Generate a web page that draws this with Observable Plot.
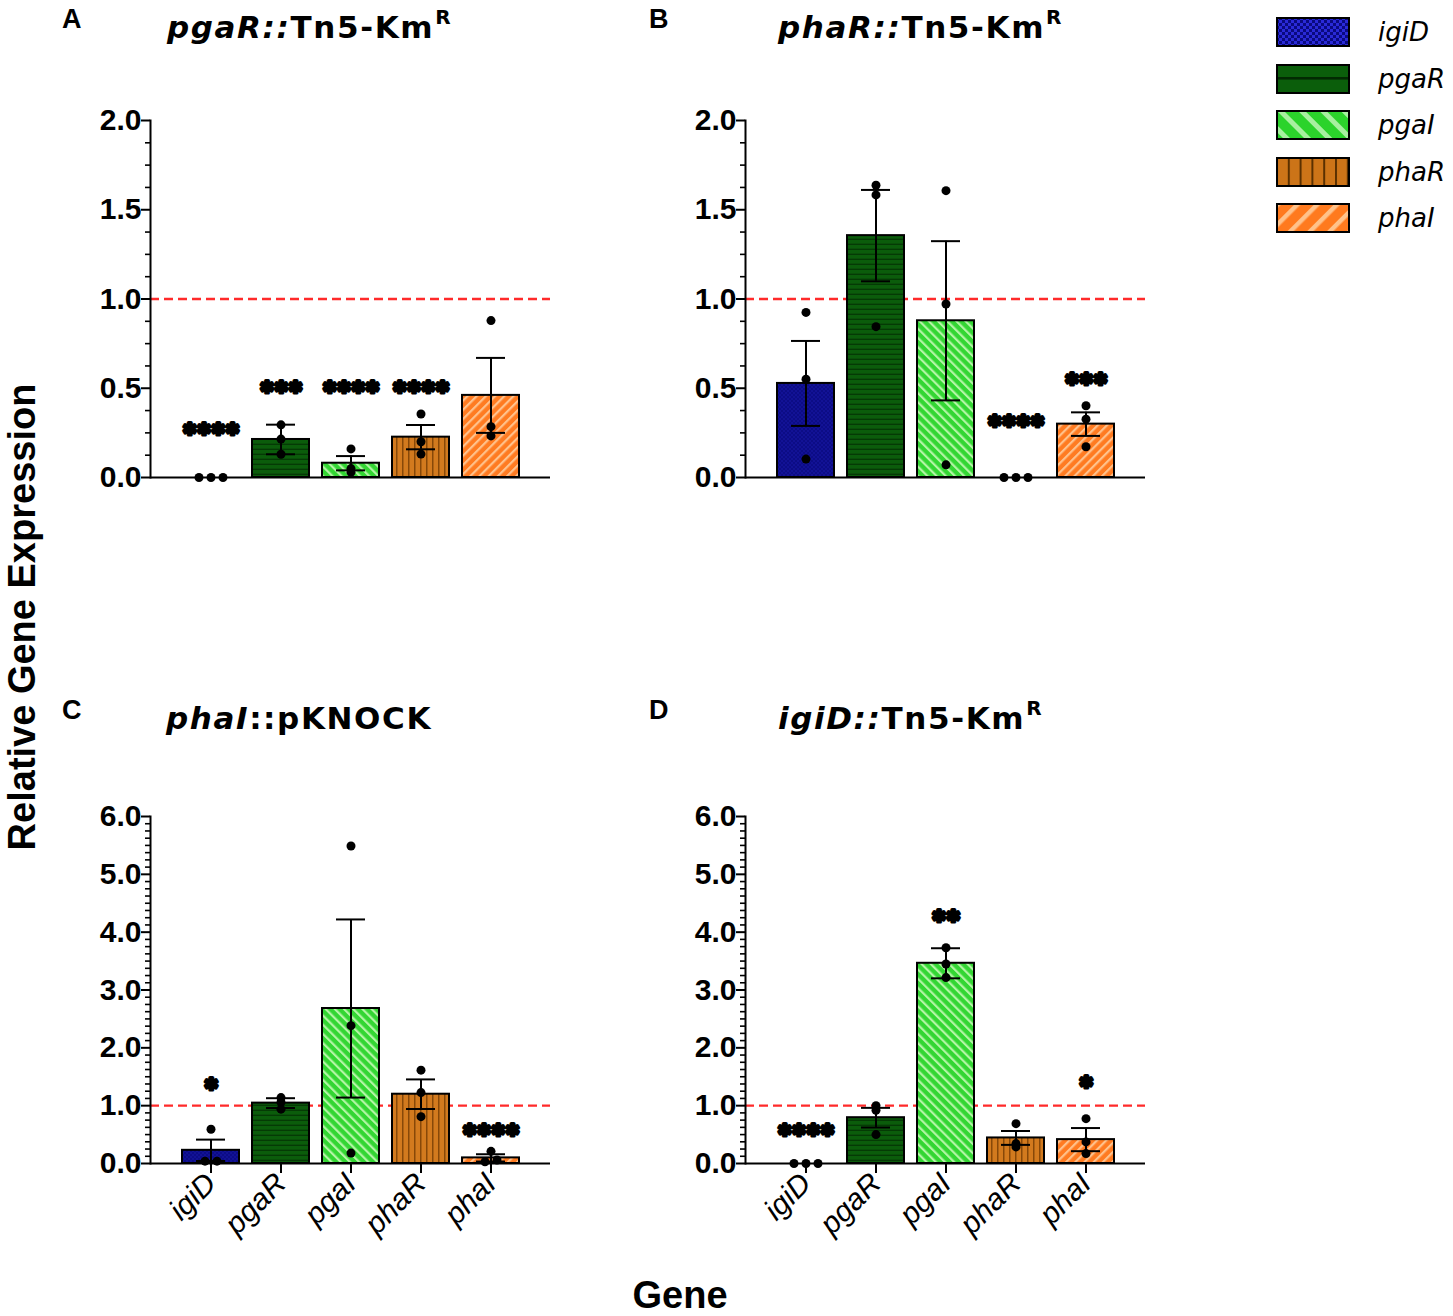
<!DOCTYPE html>
<html><head><meta charset="utf-8">
<script src="https://cdn.jsdelivr.net/npm/d3@7"></script>
<script src="https://cdn.jsdelivr.net/npm/@observablehq/plot@0.6"></script>
<style>
body{margin:0;background:#fff;}
#root{position:relative;width:1453px;height:1316px;overflow:hidden;background:#fff;font-family:"Liberation Sans",Arial,sans-serif;color:#000;}
.abs{position:absolute;white-space:nowrap;}
.title{font-family:"DejaVu Sans",Verdana,sans-serif;font-weight:bold;font-size:31px;line-height:31px;letter-spacing:1.6px;}
.title .sup{font-size:20px;position:relative;top:-14px;letter-spacing:0;margin-left:1px;}
.letter{font-family:"Liberation Sans",Arial,sans-serif;font-weight:bold;font-size:27px;line-height:27px;}
.axtitle{font-family:"Liberation Sans",Arial,sans-serif;font-weight:bold;font-size:38px;line-height:38px;}
.leglab{font-family:"DejaVu Sans",Verdana,sans-serif;font-style:italic;font-size:26px;line-height:29px;}
</style>
</head><body>
<div id="root"></div>
<script>
// ---------------- data ----------------
const genes = ["igiD", "pgaR", "pgaI", "phaR", "phaI"];
const panelLetters = ["A", "B", "C", "D"];
const titleItalic = ["pgaR::", "phaR::", "phaI", "igiD::"];
const titleRest = ["Tn5-Km", "Tn5-Km", "::pKNOCK", "Tn5-Km"];
const titleSup = ["R", "R", "", "R"];
const yMax = [2, 2, 6, 6];
const yMajorStep = [0.5, 0.5, 1, 1];
const yMinorStep = 0.125;
const refLevel = 1;

// mean relative expression per gene (order of genes)
const meanA = [0, 0.213, 0.08, 0.226, 0.46];
const meanB = [0.527, 1.355, 0.878, 0, 0.299];
const meanC = [0.228, 1.044, 2.68, 1.198, 0.097];
const meanD = [0, 0.792, 3.462, 0.442, 0.413];
// error (± bar half length)
const errA = [0, 0.083, 0.04, 0.068, 0.21];
const errB = [0.238, 0.256, 0.446, 0, 0.066];
const errC = [0.185, 0.085, 1.54, 0.256, 0.063];
const errD = [0, 0.17, 0.26, 0.12, 0.2];
// replicate points
const repsA = [[0, 0, 0], [0.295, 0.215, 0.13], [0.16, 0.05, 0.03], [0.356, 0.2, 0.131], [0.879, 0.285, 0.233]];
const repsB = [[0.925, 0.551, 0.103], [1.637, 1.583, 0.845], [1.607, 0.972, 0.071], [0, 0, 0], [0.402, 0.327, 0.172]];
const repsC = [[0.593, 0.04, 0.04], [1.14, 1.06, 0.94], [5.49, 2.384, 0.18], [1.614, 1.226, 0.81], [0.21, 0.06, 0.03]];
const repsD = [[0, 0, 0], [1.0, 0.92, 0.5], [3.73, 3.45, 3.215], [0.689, 0.344, 0.287], [0.775, 0.373, 0.172]];
// significance stars and the value at which they are printed
const starsA = ["****", "***", "****", "****", ""];
const starsB = ["", "", "", "****", "***"];
const starsC = ["*", "", "", "", "****"];
const starsD = ["****", "", "**", "", "*"];
const starYA = [0.27, 0.504, 0.504, 0.504, 0];
const starYB = [0, 0, 0, 0.312, 0.551];
const starYC = [1.37, 0, 0, 0, 0.57];
const starYD = [0.574, 0, 4.266, 0, 1.407];

const legendLabels = genes;
const xTitle = "Gene";
const yTitle = "Relative Gene Expression";

// ---------------- styles ----------------
const geneBg = ["#0c0c86", "#0b5c0b", "#33d633", "#d27a1e", "#ff7b21"];
const geneLine = ["#121296", "#053a05", "#b4f5a6", "#874808", "#ffc28c"];
const legendBg = ["#0a0a80", "#0b5e0b", "#2bd32b", "#cc7418", "#ff7a1e"];
const legendLine = ["#2a2ad8", "#022a02", "#a8f0a0", "#5a3000", "#ffc28a"];

const means = [meanA, meanB, meanC, meanD];
const errs = [errA, errB, errC, errD];
const reps = [repsA, repsB, repsC, repsD];
const stars = [starsA, starsB, starsC, starsD];
const starYs = [starYA, starYB, starYC, starYD];

const root = document.getElementById("root");

// ---------------- pattern defs ----------------
const defsSvg = d3.select(root).append("svg")
  .attr("width", 0).attr("height", 0)
  .style("position", "absolute").style("left", 0).style("top", 0);
const defs = defsSvg.append("defs");
function addPattern(id, w, h, bg, rot, draw) {
  const p = defs.append("pattern").attr("id", id)
    .attr("patternUnits", "userSpaceOnUse").attr("width", w).attr("height", h);
  if (rot) p.attr("patternTransform", `rotate(${rot})`);
  p.append("rect").attr("width", w).attr("height", h).attr("fill", bg);
  draw(p);
}
// bar patterns
addPattern("p-igiD", 4, 4, geneBg[0], 0, p => {
  p.append("rect").attr("x", 0).attr("y", 0).attr("width", 2).attr("height", 2).attr("fill", geneLine[0]);
  p.append("rect").attr("x", 2).attr("y", 2).attr("width", 2).attr("height", 2).attr("fill", geneLine[0]);
});
addPattern("p-pgaR", 10, 5, geneBg[1], 0, p => {
  p.append("rect").attr("x", 0).attr("y", 3.6).attr("width", 10).attr("height", 1.4).attr("fill", geneLine[1]);
});
addPattern("p-pgaI", 6.5, 10, geneBg[2], -45, p => {
  p.append("rect").attr("x", 0).attr("y", 0).attr("width", 2.2).attr("height", 10).attr("fill", geneLine[2]);
});
addPattern("p-phaR", 6, 10, geneBg[3], 0, p => {
  p.append("rect").attr("x", 0).attr("y", 0).attr("width", 1.5).attr("height", 10).attr("fill", geneLine[3]);
});
addPattern("p-phaI", 6.5, 10, geneBg[4], 45, p => {
  p.append("rect").attr("x", 0).attr("y", 0).attr("width", 2.2).attr("height", 10).attr("fill", geneLine[4]);
});
// legend patterns
addPattern("L-igiD", 6, 6, legendBg[0], 0, p => {
  p.append("rect").attr("x", 0).attr("y", 0).attr("width", 3).attr("height", 3).attr("fill", legendLine[0]);
  p.append("rect").attr("x", 3).attr("y", 3).attr("width", 3).attr("height", 3).attr("fill", legendLine[0]);
});
addPattern("L-pgaR", 80, 29, legendBg[1], 0, p => {
  p.append("rect").attr("x", 0).attr("y", 13).attr("width", 80).attr("height", 2.6).attr("fill", legendLine[1]);
});
addPattern("L-pgaI", 15, 40, legendBg[2], -45, p => {
  p.append("rect").attr("x", 0).attr("y", 0).attr("width", 5).attr("height", 40).attr("fill", legendLine[2]);
});
addPattern("L-phaR", 11.8, 40, legendBg[3], 0, p => {
  p.append("rect").attr("x", 0).attr("y", 0).attr("width", 2).attr("height", 40).attr("fill", legendLine[3]);
});
addPattern("L-phaI", 14, 40, legendBg[4], 45, p => {
  p.append("rect").attr("x", 0).attr("y", 0).attr("width", 4.5).attr("height", 40).attr("fill", legendLine[4]);
});

// ---------------- panels ----------------
const panelLeft = [0, 595, 0, 595];
const panelTop = [90, 90, 786, 786];

function spreadOffsets(vals, pxPerUnit) {
  const idx = vals.map((v, k) => k).sort((a, b) => vals[a] - vals[b]);
  const off = new Array(vals.length).fill(0);
  let group = [idx[0]];
  const flush = () => group.forEach((k, m) => off[k] = (m - (group.length - 1) / 2) * 12);
  for (let q = 1; q < idx.length; q++) {
    const k = idx[q], prev = group[group.length - 1];
    if ((vals[k] - vals[prev]) * pxPerUnit < 3) group.push(k);
    else { flush(); group = [k]; }
  }
  flush();
  return off;
}

function drawPanel(i) {
  const showX = i >= 2;
  const marginTop = 30, marginBottom = showX ? 120 : 10;
  const frameH = showX ? 347 : 357;
  const height = marginTop + frameH + marginBottom;
  const rows = genes.map((g, j) => ({gene: g, mean: means[i][j], err: errs[i][j]}));
  const errRows = rows.filter(d => d.err > 0);
  const pxPerUnit = frameH / yMax[i];
  const pts = [];
  genes.forEach((g, j) => {
    const off = spreadOffsets(reps[i][j], pxPerUnit);
    reps[i][j].forEach((v, k) => pts.push({gene: g, v, off: off[k]}));
  });
  const starRows = genes.map((g, j) => ({gene: g, s: stars[i][j], y: starYs[i][j]})).filter(d => d.s);
  const majors = d3.range(0, yMax[i] + 1e-9, yMajorStep[i]);
  const minors = d3.range(0, yMax[i] + 1e-9, yMinorStep).filter(v => Math.abs(v / yMajorStep[i] - Math.round(v / yMajorStep[i])) > 1e-6);

  const marks = [
    Plot.ruleY([refLevel], {stroke: "#ff2a2a", strokeWidth: 2.3, strokeDasharray: "9,5"}),
    ...genes.map(g => Plot.barY(rows.filter(d => d.gene === g && d.mean > 0), {
      x: "gene", y: "mean", fill: `url(#p-${g})`, stroke: "#000", strokeWidth: 2
    })),
    Plot.ruleX(errRows, {x: "gene", y1: d => Math.max(0, d.mean - d.err), y2: d => d.mean + d.err, stroke: "#000", strokeWidth: 2}),
    Plot.tickY(errRows, {x: "gene", y: d => d.mean + d.err, stroke: "#000", strokeWidth: 2, insetLeft: 14, insetRight: 14}),
    Plot.tickY(errRows.filter(d => d.mean - d.err > 0), {x: "gene", y: d => d.mean - d.err, stroke: "#000", strokeWidth: 2, insetLeft: 14, insetRight: 14}),
    ...Array.from(d3.group(pts, d => d.off), ([off, arr]) =>
      Plot.dot(arr, {x: "gene", y: "v", dx: off, r: 4.5, fill: "#000", stroke: "none"})),
    Plot.text(starRows, {x: "gene", y: "y", text: d => "\u2731".repeat(d.s.length), fontSize: 17,
      fontFamily: "DejaVu Sans", fontWeight: "bold", fill: "#000", stroke: "#000", strokeWidth: 3.2, strokeLinejoin: "round"}),
    Plot.axisY({ticks: minors, tickSize: 5, tickFormat: () => "", strokeWidth: 1.6}),
    Plot.axisY({ticks: majors, tickSize: 9, tickPadding: 0, tickFormat: d => d.toFixed(1),
      fontSize: 30, fontWeight: "bold", strokeWidth: 2, fill: "#000"}),
    Plot.frame({anchor: "left", stroke: "#000", strokeWidth: 2}),
    Plot.ruleY([0], {stroke: "#000", strokeWidth: 2})
  ];
  if (showX) marks.push(Plot.axisX({tickRotate: -45, tickSize: 10, tickPadding: 5, fontSize: 30,
    fontStyle: "italic", fontWeight: "normal", strokeWidth: 2, fill: "#000"}));

  const svg = Plot.plot({
    width: 560, height,
    marginLeft: 150, marginRight: 10, marginTop, marginBottom,
    style: {fontFamily: "'Liberation Sans', Arial, sans-serif", color: "#000", background: "transparent", overflow: "visible"},
    x: {domain: genes, paddingInner: 0.186, paddingOuter: 0.45, label: null, axis: showX ? undefined : null},
    y: {domain: [0, yMax[i]], label: null},
    marks
  });
  svg.style.position = "absolute";
  svg.style.left = panelLeft[i] + "px";
  svg.style.top = panelTop[i] + "px";
  svg.style.maxWidth = "none";
  root.appendChild(svg);
}
[0, 1, 2, 3].forEach(drawPanel);

// ---------------- titles ----------------
const letterPos = [[62, 6], [649, 6], [62, 697], [649, 697]];
const titlePos = [[167, 12], [778, 12], [166, 703], [778, 703]];
panelLetters.forEach((L, i) => {
  const d = document.createElement("div");
  d.className = "abs letter";
  d.style.left = letterPos[i][0] + "px"; d.style.top = letterPos[i][1] + "px";
  d.textContent = L;
  root.appendChild(d);
  const t = document.createElement("div");
  t.className = "abs title";
  t.style.left = titlePos[i][0] + "px"; t.style.top = titlePos[i][1] + "px";
  const it = document.createElement("i"); it.textContent = titleItalic[i]; t.appendChild(it);
  t.appendChild(document.createTextNode(titleRest[i]));
  if (titleSup[i]) { const s = document.createElement("span"); s.className = "sup"; s.textContent = titleSup[i]; t.appendChild(s); }
  root.appendChild(t);
});

// axis titles
const yt = document.createElement("div");
yt.className = "abs axtitle";
yt.style.left = "22px"; yt.style.top = "617px";
yt.style.transform = "translate(-50%,-50%) rotate(-90deg)";
yt.textContent = yTitle;
root.appendChild(yt);
const xt = document.createElement("div");
xt.className = "abs axtitle";
xt.style.left = "680px"; xt.style.top = "1276px";
xt.style.transform = "translateX(-50%)";
xt.textContent = xTitle;
root.appendChild(xt);

// ---------------- legend ----------------
legendLabels.forEach((g, k) => {
  const top = 18 + k * 46.5;
  const sw = d3.select(root).append("svg")
    .attr("width", 75).attr("height", 31)
    .style("position", "absolute").style("left", "1276px").style("top", (top - 1) + "px");
  sw.append("rect").attr("x", 1).attr("y", 1).attr("width", 72).attr("height", 28)
    .attr("fill", `url(#L-${g})`).attr("stroke", "#000").attr("stroke-width", 2);
  const lab = document.createElement("div");
  lab.className = "abs leglab";
  lab.style.left = "1378px"; lab.style.top = top + "px";
  lab.textContent = g;
  root.appendChild(lab);
});
</script>
</body></html>
